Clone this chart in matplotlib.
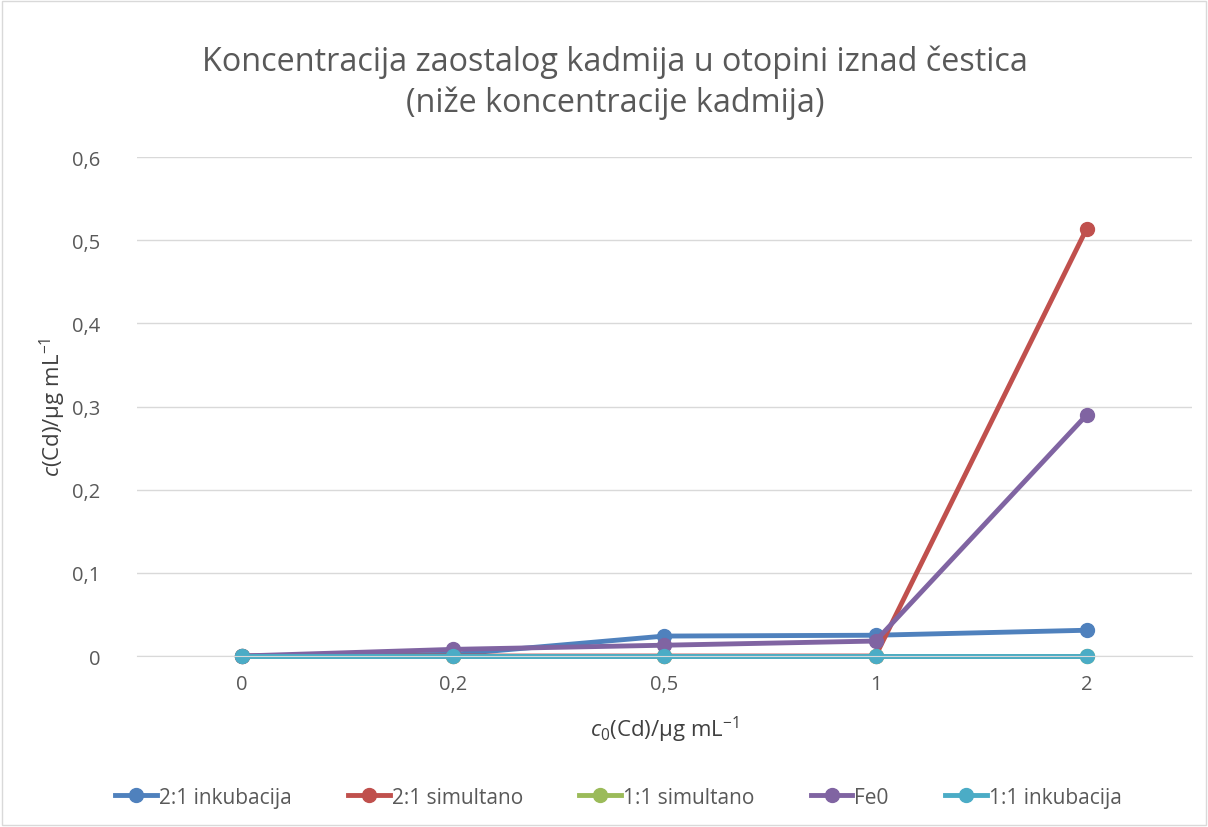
import matplotlib
matplotlib.use('Agg')
import matplotlib.pyplot as plt

plt.rcParams['font.family'] = ['Open Sans', 'DejaVu Sans']
plt.rcParams['mathtext.fontset'] = 'custom'
plt.rcParams['mathtext.rm'] = 'Open Sans'
plt.rcParams['mathtext.it'] = 'Open Sans:italic'

# data
categories = ['0', '0,2', '0,5', '1', '2']
inkub_21 = [0, 0.002, 0.024, 0.025, 0.031]
simult_21 = [0, 0, 0, 0, 0.514]
simult_11 = [0, 0, 0, 0, 0]
fe0 = [0, 0.008, 0.013, 0.018, 0.29]
inkub_11 = [0, 0, 0, 0, 0]

series = [
    ('2:1 inkubacija', inkub_21, '#4f81bd'),
    ('2:1 simultano', simult_21, '#c0504d'),
    ('1:1 simultano', simult_11, '#9bbb59'),
    ('Fe0', fe0, '#8064a2'),
    ('1:1 inkubacija', inkub_11, '#4bacc6'),
]

fig = plt.figure(figsize=(12.08, 8.28), dpi=100)
ax = fig.add_axes([0.113, 0.2065, 0.874, 0.6025])

x = range(len(categories))
for name, vals, col in series:
    ax.plot(x, vals, color=col, lw=3.5, marker='o', ms=10, label=name, clip_on=False)

ax.set_xlim(-0.5, len(categories) - 0.5)
ax.set_ylim(0, 0.6)
ax.set_yticks([0, 0.1, 0.2, 0.3, 0.4, 0.5, 0.6])
ax.set_yticklabels(['0', '0,1', '0,2', '0,3', '0,4', '0,5', '0,6'])
ax.set_xticks(list(x))
ax.set_xticklabels(categories)
ax.tick_params(axis='both', length=0, labelsize=14.5, colors='#595959')
ax.tick_params(axis='y', pad=26)
ax.tick_params(axis='x', pad=13)
ax.grid(axis='y', color='#d9d9d9', lw=1)
ax.set_axisbelow(True)
for s in ['top', 'right', 'left']:
    ax.spines[s].set_visible(False)
ax.spines['bottom'].set_color('#d9d9d9')

ax.set_ylabel(r'$c$(Cd)/µg mL$^{-1}$', fontsize=16, color='#404040', labelpad=3)
ax.set_xlabel(r'$c_0$(Cd)/µg mL$^{-1}$', fontsize=16, color='#404040', labelpad=14)

fig.text(0.509, 0.900, 'Koncentracija zaostalog kadmija u otopini iznad čestica\n(niže koncentracije kadmija)',
         ha='center', va='center', fontsize=23.3, color='#595959', linespacing=1.3)

fig.legend(loc='center', bbox_to_anchor=(0.512, 0.036), ncol=5, frameon=False,
           fontsize=15, labelcolor='#595959', handlelength=2.0, handletextpad=0.1,
           columnspacing=2.7)

fig.patches.append(plt.Rectangle((0.002, 0.002), 0.996, 0.996, transform=fig.transFigure,
                                 fill=False, edgecolor='#d9d9d9', lw=1))

fig.savefig('out.png', dpi=100)
